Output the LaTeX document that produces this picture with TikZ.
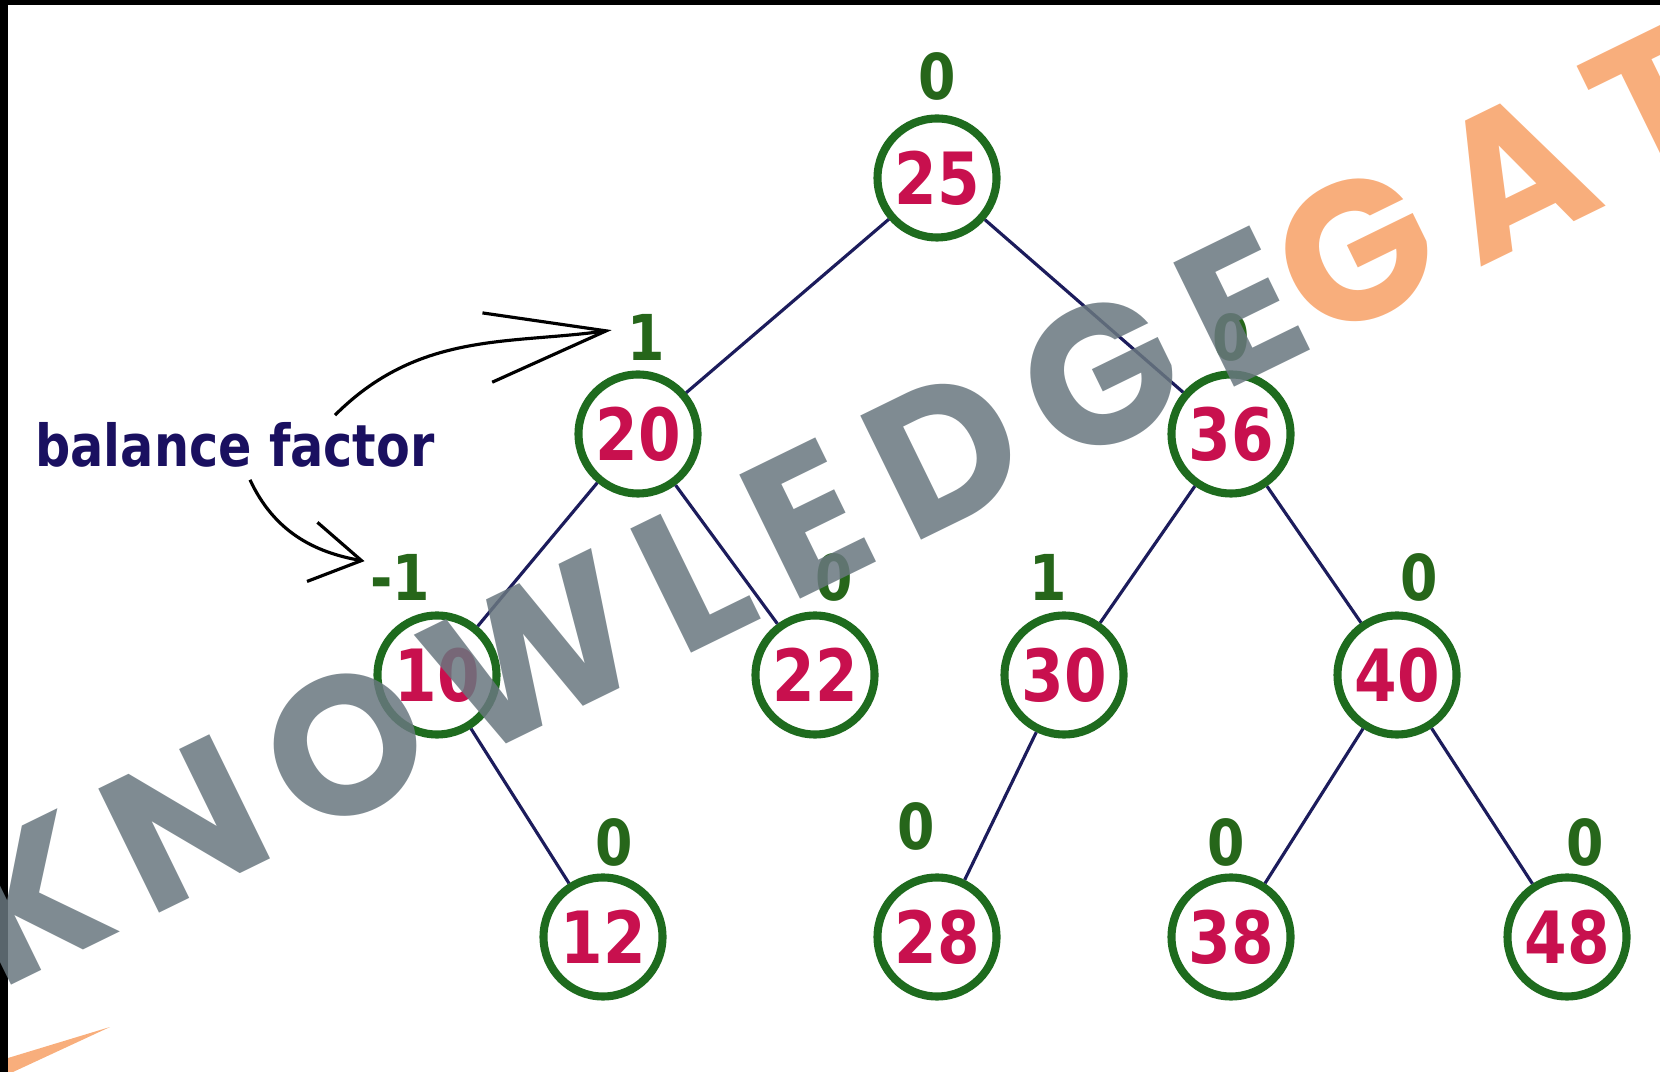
\documentclass[tikz,border=0pt]{standalone}
\usepackage{fontspec}
\usepackage{tikz}
\usetikzlibrary{arrows.meta,positioning,calc}
\newfontfamily\treefont{DejaVu Sans}[FakeStretch=0.85]
\newfontfamily\markfont{Poppins}[LetterSpace=14]
\definecolor{ring}{HTML}{1E6B1E}
\definecolor{keyred}{HTML}{C8104E}
\definecolor{edgeblue}{HTML}{1C1C5C}
\definecolor{bfgreen}{HTML}{26661A}
\definecolor{note}{HTML}{1A1060}
\definecolor{markgray}{HTML}{69777F}
\definecolor{markorange}{HTML}{F7A065}

\begin{document}
\begin{tikzpicture}[
  key/.style={circle,draw=ring,line width=2.3pt,minimum size=11.9mm,inner sep=0pt,
              text=keyred,font=\treefont\bfseries\fontsize{20.5pt}{22pt}\selectfont},
  bf/.style={text=bfgreen,inner sep=0pt,font=\treefont\bfseries\fontsize{18pt}{20pt}\selectfont},
  link/.style={draw=edgeblue,line width=0.9pt},
  pointer/.style={draw=black,line width=0.9pt}]
  \useasboundingbox (0,0) rectangle (16.6,-10.72);
  % frame edges
  \fill[black] (0,0) rectangle (16.6,-0.05);
  \fill[black] (0,0) rectangle (0.08,-10.72);

  % keys
  \node[key] (n25) at (9.37,-1.78) {25};
  \node[key] (n20) at (6.38,-4.34) {20};
  \node[key] (n36) at (12.31,-4.34) {36};
  \node[key] (n10) at (4.37,-6.75) {10};
  \node[key] (n22) at (8.15,-6.75) {22};
  \node[key] (n30) at (10.64,-6.75) {30};
  \node[key] (n40) at (13.97,-6.75) {40};
  \node[key] (n12) at (6.03,-9.37) {12};
  \node[key] (n28) at (9.37,-9.37) {28};
  \node[key] (n38) at (12.31,-9.37) {38};
  \node[key] (n48) at (15.67,-9.37) {48};

  \draw[link] (n25) -- (n20);
  \draw[link] (n25) -- (n36);
  \draw[link] (n20) -- (n10);
  \draw[link] (n20) -- (n22);
  \draw[link] (n36) -- (n30);
  \draw[link] (n36) -- (n40);
  \draw[link] (n10) -- (n12);
  \draw[link] (n30) -- (n28);
  \draw[link] (n40) -- (n38);
  \draw[link] (n40) -- (n48);

  % balance factors
  \node[bf] (b25) at ([shift={(0,1.02)}]n25) {0};
  \node[bf] (b20) at ([shift={(0.08,0.97)}]n20) {1};
  \node[bf] (b36) at ([shift={(0,0.97)}]n36) {0};
  \node[bf] (b10) at ([shift={(-0.37,0.98)}]n10) {-1};
  \node[bf] (b22) at ([shift={(0.19,0.98)}]n22) {0};
  \node[bf] (b30) at ([shift={(-0.16,0.98)}]n30) {1};
  \node[bf] (b40) at ([shift={(0.22,0.98)}]n40) {0};
  \node[bf] (b12) at ([shift={(0.11,0.95)}]n12) {0};
  \node[bf] (b28) at ([shift={(-0.21,1.11)}]n28) {0};
  \node[bf] (b38) at ([shift={(-0.05,0.95)}]n38) {0};
  \node[bf] (b48) at ([shift={(0.18,0.95)}]n48) {0};

  \node[text=note,font=\treefont\bfseries\fontsize{16.5pt}{18pt}\selectfont] (bal) at (2.35,-4.45) {balance factor};
  \draw[pointer,-{Straight Barb[length=12mm,width=7mm]},shorten >=1.5mm]
    ([xshift=10mm,yshift=-0.5mm]bal.north) to[out=45,in=188] ([yshift=0.9mm]b20.west);
  \draw[pointer,-{Straight Barb[length=5mm,width=6mm]},shorten >=0.5mm]
    ([xshift=1.5mm]bal.south) to[out=-65,in=170] ([yshift=1.5mm]b10.west);

  % watermark on top
  \fill[markorange,opacity=0.85] (0.08,-10.58) -- (1.10,-10.27) -- (0.13,-10.72) -- (0.08,-10.72) -- cycle;
  \node[anchor=base west,rotate=26.06,inner sep=0pt,opacity=0.85,
        font=\markfont\bfseries\fontsize{56pt}{56pt}\selectfont] (mark) at (0.00,-9.91)
       {\textcolor{markgray}{KNOWLEDGE}\textcolor{markorange}{GATE}};
\end{tikzpicture}
\end{document}
